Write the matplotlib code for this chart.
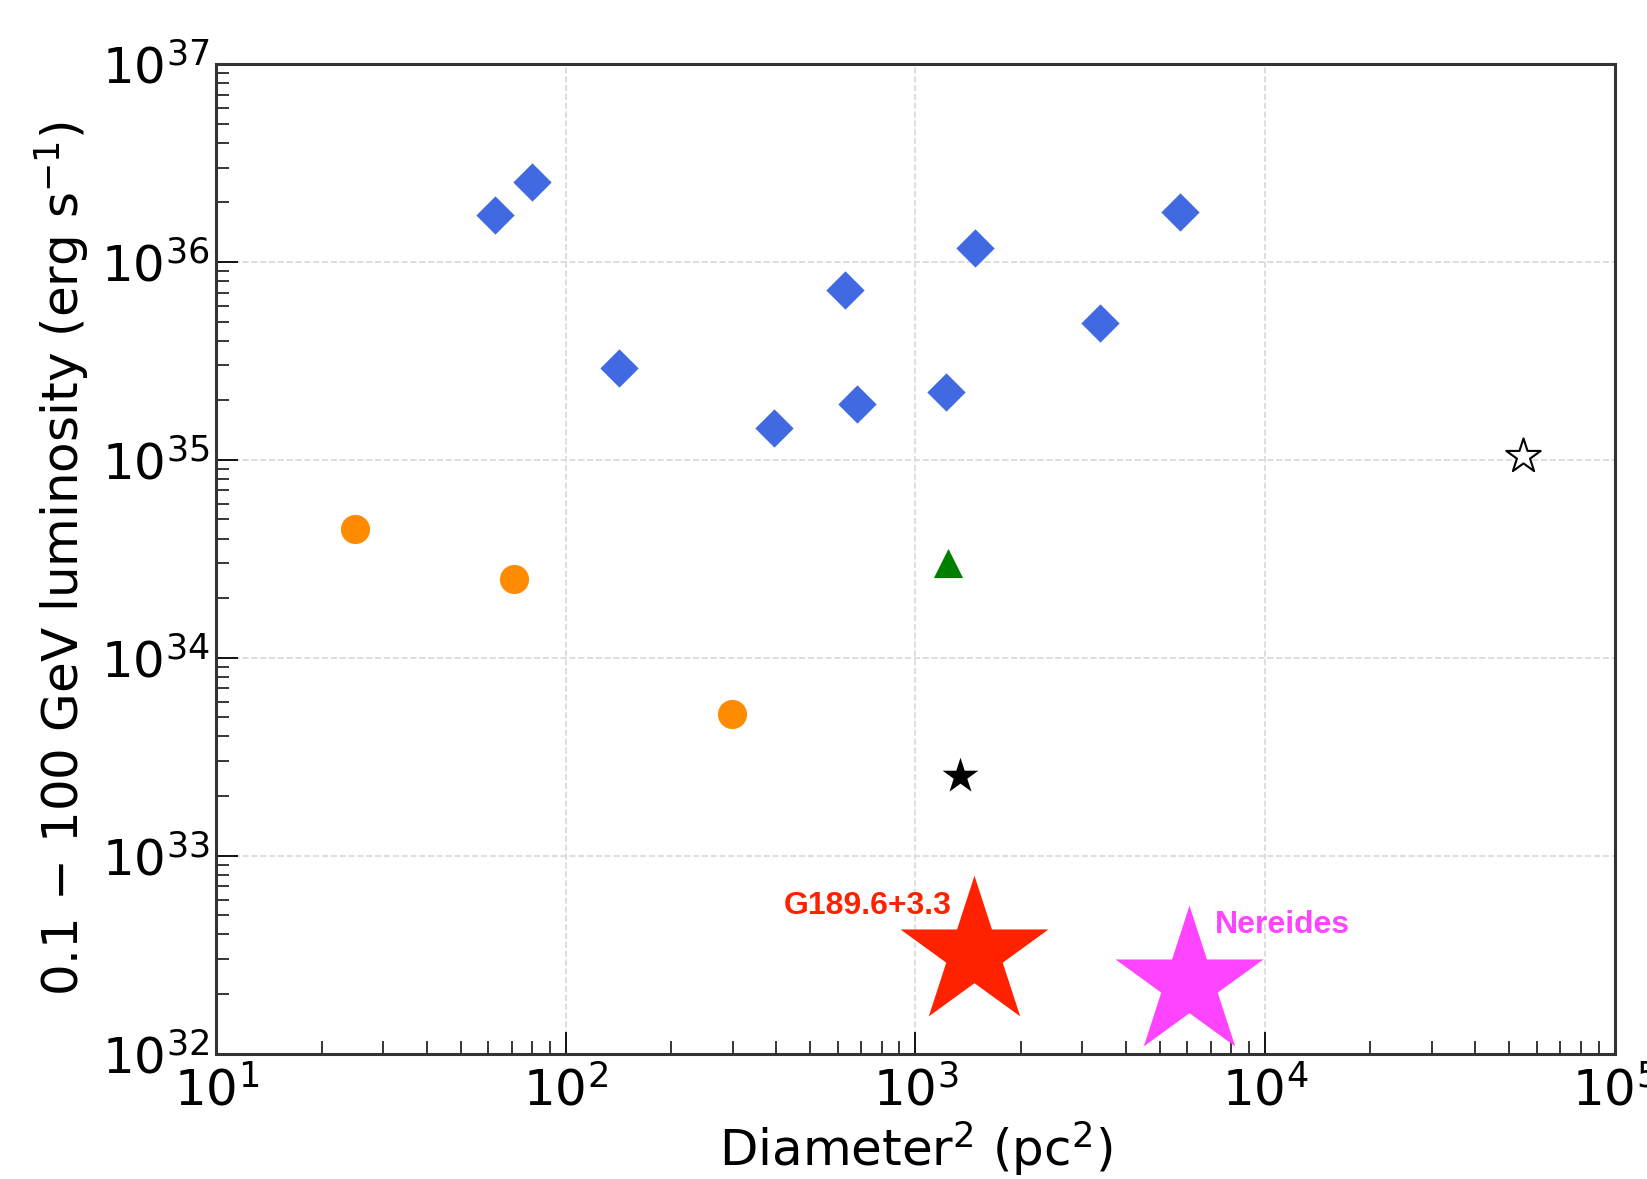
import matplotlib
matplotlib.use("Agg")
import matplotlib.pyplot as plt

# SNR interacting with clouds (diamonds)
diam_x = [62.5, 80.2, 142, 393, 629, 679, 1222, 1483, 3379, 5715]
diam_y = [1.72e36, 2.54e36, 2.92e35, 1.44e35, 7.22e35, 1.91e35, 2.21e35, 1.18e36, 4.94e35, 1.79e36]

# young SNRs (circles)
circ_x = [24.9, 70.8, 298]
circ_y = [4.45e34, 2.51e34, 5.18e33]

tri_x = [1240]
tri_y = [3.0e34]

bstar_x = [1342]
bstar_y = [2.53e33]

ostar_x = [54700]
ostar_y = [1.05e35]

g189_x, g189_y = 1473, 3.23e32
ner_x, ner_y = 6080, 2.27e32

plt.rcParams["font.family"] = "DejaVu Sans"

fig = plt.figure(figsize=(16.47, 11.79), dpi=100)
ax = fig.add_axes([0.1314, 0.1064, 0.8489, 0.8393])

ax.scatter(diam_x, diam_y, marker="D", s=19.5**2, color="royalblue", zorder=3, linewidths=0)
ax.scatter(circ_x, circ_y, marker="o", s=21**2, color="darkorange", zorder=3, linewidths=0)
ax.scatter(tri_x, tri_y, marker="^", s=21**2, color="green", zorder=3, linewidths=0)
ax.scatter(bstar_x, bstar_y, marker="*", s=27**2, color="black", zorder=3, linewidths=0)
ax.scatter(ostar_x, ostar_y, marker="*", s=26**2, facecolor="white", edgecolor="black",
           linewidths=1.5, zorder=3)
ax.scatter([g189_x], [g189_y], marker="*", s=112**2, color="#ff2200", zorder=4, linewidths=0)
ax.scatter([ner_x], [ner_y], marker="*", s=112**2, color="#ff44ff", zorder=4, linewidths=0)

ax.annotate("G189.6+3.3", xy=(g189_x, g189_y), xytext=(-16, 34), textcoords="offset points",
            ha="right", va="center", color="#ff2200", fontsize=23, fontweight="bold",
            family="Liberation Sans", zorder=5)
ax.annotate("Nereides", xy=(ner_x, ner_y), xytext=(18, 42), textcoords="offset points",
            ha="left", va="center", color="#ff44ff", fontsize=23, fontweight="bold",
            family="Liberation Sans", zorder=5)

ax.set_xscale("log")
ax.set_yscale("log")
ax.set_xlim(10, 1e5)
ax.set_ylim(1e32, 1e37)

ax.grid(True, which="major", color="#d8d8d8", linestyle="--", linewidth=1.2, zorder=0)
ax.set_axisbelow(True)

ax.tick_params(which="both", direction="in", top=False, right=False, labelsize=36)
ax.tick_params(which="major", length=16, width=1.3, pad=5)
ax.tick_params(which="minor", length=9.5, width=1.1)
ax.tick_params(axis="x", which="major", pad=9)

for sp in ax.spines.values():
    sp.set_linewidth(2.2)
    sp.set_color("#333333")

ax.set_xlabel(r"Diameter$^2$ (pc$^2$)", fontsize=36, labelpad=2)
ax.set_ylabel(r"0.1 $-$ 100 GeV luminosity (erg s$^{-1}$)", fontsize=36, labelpad=6)

fig.savefig("out.png", dpi=100)
